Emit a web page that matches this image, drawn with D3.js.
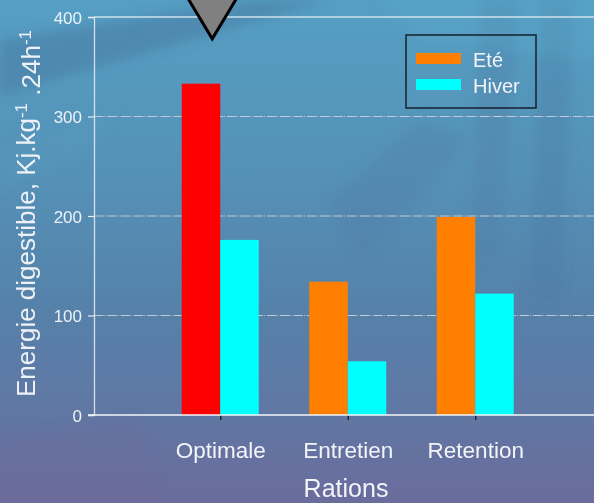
<!DOCTYPE html>
<html>
<head>
<meta charset="utf-8">
<script src="https://cdn.jsdelivr.net/npm/d3@7"></script>
<style>
  html, body { margin: 0; padding: 0; background: #5587ad; }
  svg { display: block; font-family: "Liberation Sans", Arial, sans-serif; }
</style>
</head>
<body>
<svg id="chart" width="594" height="503"></svg>
<script>
// Rations et séries
const categories = ["Optimale", "Entretien", "Retention"];
const seriesNames = ["Eté", "Hiver"];
const ete = [333, 134, 199];
const hiver = [176, 54, 122];
const yTicks = [0, 100, 200, 300, 400];
const seriesColors = ["#ff8000", "#00ffff"];
const highlightColor = "#ff0000";
const highlighted = { category: "Optimale", series: "Eté" };

const W = 594, H = 503;
const margin = { left: 94, right: 0, top: 17, bottom: 88 };
const svg = d3.select("#chart");
const defs = svg.append("defs");

// Fond dégradé bleu -> mauve
const bg = defs.append("linearGradient").attr("id", "bg")
  .attr("x1", 0).attr("y1", 0).attr("x2", 0).attr("y2", 1);
[["0%", "#569fc4"], ["35%", "#5591b7"], ["60%", "#5582aa"], ["80%", "#5f78a4"], ["100%", "#6a6c9c"]]
  .forEach(([o, c]) => bg.append("stop").attr("offset", o).attr("stop-color", c));
defs.append("filter").attr("id", "soft")
  .append("feGaussianBlur").attr("stdDeviation", 6);

svg.append("rect").attr("width", W).attr("height", H).attr("fill", "url(#bg)");

// Reflets d'eau discrets
const tex = svg.append("g").attr("filter", "url(#soft)");
tex.append("path").attr("d", "M0,40 L250,0 L330,0 L0,95 Z")
  .attr("fill", "#48739d").attr("opacity", 0.45);
tex.append("path").attr("d", "M0,150 L120,110 L90,150 L0,190 Z")
  .attr("fill", "#5a9cc0").attr("opacity", 0.35);
tex.append("path").attr("d", "M480,0 L520,0 L500,260 L470,260 Z")
  .attr("fill", "#4d7ea7").attr("opacity", 0.35);
tex.append("path").attr("d", "M540,0 L575,0 L560,300 L530,300 Z")
  .attr("fill", "#4a78a2").attr("opacity", 0.3);
tex.append("path").attr("d", "M330,200 L420,120 L470,140 L360,260 Z")
  .attr("fill", "#4e7ca6").attr("opacity", 0.3);
tex.append("path").attr("d", "M380,0 L600,0 L600,60 L420,40 Z")
  .attr("fill", "#5aaacb").attr("opacity", 0.35);
tex.append("path").attr("d", "M0,440 L140,420 L160,503 L0,503 Z")
  .attr("fill", "#6c6a9a").attr("opacity", 0.3);

const y = d3.scaleLinear().domain([0, 400]).range([415, 17]);
const x0 = d3.scaleBand().domain(categories).range([156.5, 539]).paddingInner(0).paddingOuter(0);
const half = 38.5;
const x1 = d3.scaleBand().domain(seriesNames)
  .range([x0.bandwidth() / 2 - half, x0.bandwidth() / 2 + half]);

// Grille horizontale
const grid = svg.append("g");
yTicks.filter(t => t > 0 && t < 400).forEach(t => {
  grid.append("line").attr("x1", margin.left).attr("x2", W)
    .attr("y1", y(t)).attr("y2", y(t))
    .attr("stroke", "#c3cad0").attr("stroke-width", 1.2)
    .attr("stroke-dasharray", "9.5,1,1,1.8");
});
grid.append("line").attr("x1", margin.left).attr("x2", W)
  .attr("y1", y(400)).attr("y2", y(400))
  .attr("stroke", "#cfe2ee").attr("stroke-width", 1.3);

// Barres
const rows = categories.map((c, i) => ({ category: c, values: [ete[i], hiver[i]] }));
const groups = svg.append("g").selectAll("g").data(rows).join("g")
  .attr("transform", d => `translate(${x0(d.category)},0)`);
groups.selectAll("rect")
  .data(d => seriesNames.map((s, j) => ({ category: d.category, series: s, value: d.values[j], j })))
  .join("rect")
  .attr("x", d => x1(d.series))
  .attr("width", x1.bandwidth())
  .attr("y", d => y(d.value))
  .attr("height", d => y(0) - y(d.value))
  .attr("fill", d => (d.category === highlighted.category && d.series === highlighted.series)
    ? highlightColor : seriesColors[d.j]);

// Axe Y
const yAxis = svg.append("g").attr("transform", `translate(${margin.left},0)`)
  .call(d3.axisLeft(y).tickValues(yTicks).tickSize(6).tickPadding(6));
yAxis.select(".domain").attr("stroke", "#d4e0ea").attr("stroke-width", 1.3);
yAxis.selectAll(".tick line").attr("stroke", "#e8eef2").attr("stroke-width", 1.2);
yAxis.selectAll(".tick text").attr("fill", "#eef2f6")
  .attr("font-size", "17px").attr("font-family", "Liberation Sans, Arial, sans-serif")
  .attr("dy", "0.36em");

// Axe X
const xAxis = svg.append("g").attr("transform", `translate(0,${y(0)})`)
  .call(d3.axisBottom(d3.scalePoint().domain(categories)
    .range([x0("Optimale") + x0.bandwidth() / 2, x0("Retention") + x0.bandwidth() / 2]))
    .tickSize(5).tickPadding(22));
xAxis.select(".domain").remove();
xAxis.selectAll(".tick line").attr("stroke", "#1e2630").attr("stroke-width", 1.5);
xAxis.selectAll(".tick text").attr("fill", "#f2f4f8")
  .attr("font-size", "22.5px").attr("font-family", "Liberation Sans, Arial, sans-serif");
svg.append("line").attr("x1", margin.left - 6).attr("x2", W)
  .attr("y1", y(0)).attr("y2", y(0))
  .attr("stroke", "#f4f6f8").attr("stroke-width", 1.6);

// Titres des axes
svg.append("text").attr("x", 346).attr("y", 497)
  .attr("text-anchor", "middle").attr("fill", "#f2f4f8")
  .attr("font-size", "25px").text("Rations");

const yt = svg.append("text")
  .attr("transform", "translate(35,397) rotate(-90)")
  .attr("fill", "#eef2f6").attr("font-size", "26px");
yt.append("tspan").text("Energie digestible, Kj.kg");
yt.append("tspan").attr("dy", "-0.5em").attr("font-size", "17px").text("-1");
yt.append("tspan").attr("dy", "0.5em").text(" .24h");
yt.append("tspan").attr("dy", "-0.5em").attr("font-size", "17px").text("-1");

// Légende
const lg = svg.append("g").attr("transform", "translate(406,35)");
lg.append("rect").attr("width", 130).attr("height", 73)
  .attr("fill", "none").attr("stroke", "#15202c").attr("stroke-width", 1.5);
seriesNames.forEach((s, i) => {
  lg.append("rect").attr("x", 10).attr("y", 18 + i * 26).attr("width", 45).attr("height", 11)
    .attr("fill", seriesColors[i]);
  lg.append("text").attr("x", 67).attr("y", 32 + i * 26)
    .attr("fill", "#f2f4f8").attr("font-size", "20px").text(s);
});

// Repère triangulaire au-dessus de la ration optimale
const tipX = x0("Optimale") + x1("Hiver") - 8;
const tipY = y(378);
const triH = tipY + 12;
svg.append("path")
  .attr("d", `M${tipX - triH * 0.6},${tipY - triH} L${tipX + triH * 0.6},${tipY - triH} L${tipX},${tipY} Z`)
  .attr("fill", "#808080").attr("stroke", "#000").attr("stroke-width", 3)
  .attr("stroke-linejoin", "miter");
</script>
</body>
</html>
